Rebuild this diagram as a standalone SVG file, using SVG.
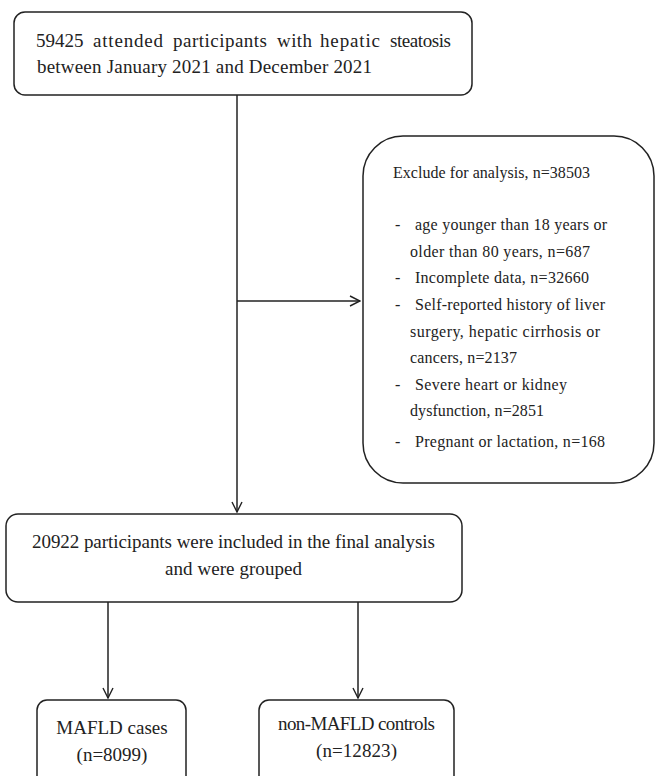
<svg xmlns="http://www.w3.org/2000/svg" width="656" height="776" viewBox="0 0 656 776">
<defs>
<style>
.box{fill:#fff;stroke:#222;stroke-width:1.5}
.t{font-family:"Liberation Serif","Times New Roman",serif;fill:#222}
.big{font-size:19px}
.small{font-size:16px}
.ln{stroke:#222;stroke-width:1.5;fill:none}
</style>
<marker id="arr" viewBox="0 0 12 12" refX="11" refY="6" markerWidth="12" markerHeight="12" markerUnits="userSpaceOnUse" orient="auto">
<path d="M1,1 L11,6 L1,11" fill="none" stroke="#222" stroke-width="1.4"/>
</marker>
</defs>
<rect width="656" height="776" fill="#fff"/>
<g id="connectors">
<line class="ln" x1="237" y1="95" x2="237" y2="512" marker-end="url(#arr)"/>
<line class="ln" x1="237" y1="301" x2="360" y2="301" marker-end="url(#arr)"/>
<line class="ln" x1="108" y1="602" x2="108" y2="698" marker-end="url(#arr)"/>
<line class="ln" x1="358" y1="602" x2="358" y2="698" marker-end="url(#arr)"/>
</g>
<g id="start">
<rect class="box" x="14" y="12" width="458" height="83" rx="11"/>
<g class="t big">
<text x="36" y="47">59425</text>
<text x="93" y="47" textLength="70">attended</text>
<text x="173" y="47" textLength="94">participants</text>
<text x="277" y="47" textLength="35">with</text>
<text x="320" y="47" textLength="60">hepatic</text>
<text x="390" y="47" textLength="61">steatosis</text>
<text x="37" y="73" textLength="335">between January 2021 and December 2021</text>
</g>
</g>
<g id="exclude">
<rect class="box" x="363" y="136" width="291" height="347" rx="40"/>
<g class="t small">
<text x="393" y="178" textLength="197">Exclude for analysis, n=38503</text>
<text x="395" y="230">-</text><text x="415" y="230" textLength="192">age younger than 18 years or</text>
<text x="410" y="257" textLength="180">older than 80 years, n=687</text>
<text x="395" y="283">-</text><text x="415" y="283" textLength="174">Incomplete data, n=32660</text>
<text x="395" y="310">-</text><text x="415" y="310" textLength="190">Self-reported history of liver</text>
<text x="410" y="337" textLength="190">surgery, hepatic cirrhosis or</text>
<text x="410" y="363" textLength="107">cancers, n=2137</text>
<text x="395" y="390">-</text><text x="415" y="390" textLength="152">Severe heart or kidney</text>
<text x="410" y="416" textLength="134">dysfunction, n=2851</text>
<text x="395" y="447">-</text><text x="415" y="447" textLength="190">Pregnant or lactation, n=168</text>
</g>
</g>
<g id="included">
<rect class="box" x="6" y="514" width="456" height="88" rx="12"/>
<text class="t big" x="32" y="548" textLength="403">20922 participants were included in the final analysis</text>
<text class="t big" x="165" y="575" textLength="137">and were grouped</text>
</g>
<g id="mafld">
<rect class="box" x="37" y="700" width="149" height="90" rx="10"/>
<text class="t big" x="112" y="734" text-anchor="middle">MAFLD cases</text>
<text class="t big" x="112" y="761" text-anchor="middle">(n=8099)</text>
</g>
<g id="nonmafld">
<rect class="box" x="259" y="700" width="195" height="90" rx="10"/>
<text class="t big" x="278" y="730" textLength="157">non-MAFLD controls</text>
<text class="t big" x="316" y="757" textLength="81">(n=12823)</text>
</g>
</svg>
